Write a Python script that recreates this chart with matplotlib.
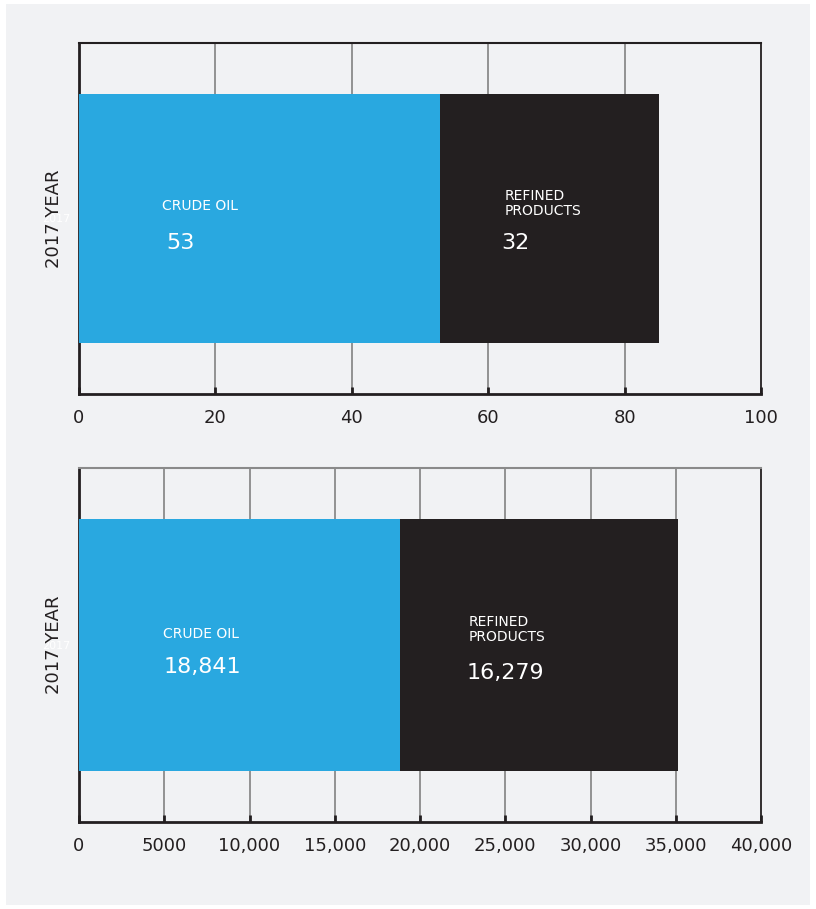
import matplotlib
matplotlib.use("Agg")
import matplotlib.pyplot as plt
from matplotlib.patches import Rectangle

# data
year_label = "2017"
categories = ["CRUDE OIL", "REFINED\nPRODUCTS"]
share_values = [53, 32]                 # top chart
volume_values = [18841, 16279]          # bottom chart
share_ticks = [0, 20, 40, 60, 80, 100]
share_ticklabels = ["0", "20", "40", "60", "80", "100"]
volume_ticks = [0, 5000, 10000, 15000, 20000, 25000, 30000, 35000, 40000]
volume_ticklabels = ["0", "5000", "10,000", "15,000", "20,000", "25,000",
                     "30,000", "35,000", "40,000"]

BG = "#f1f2f4"
BLUE = "#29a8e0"
DARK = "#231f20"
GRID = "#8a8a8a"

plt.rcParams['font.family'] = ['DejaVu Sans']

fig = plt.figure(figsize=(8.16, 9.09), dpi=100)
fig.patch.set_facecolor("white")
# light grey card behind both charts
fig.patches.append(Rectangle((6 / 816, 1 - 905 / 909), 804 / 816, 901 / 909,
                             transform=fig.transFigure, facecolor=BG,
                             edgecolor="none", zorder=-10))


def draw_panel(ax, values, ticks, ticklabels, xmax, label_fmt,
               name_dx, val_dx, name_dy, val_dy, top_spine_color):
    ax.set_facecolor(BG)
    colors = [BLUE, DARK]
    left = 0
    for i, v in enumerate(values):
        ax.barh(0, v, left=left, height=0.71, color=colors[i], zorder=3)
        # label offsets are fractions of the axis width from the bar start
        ax.text(left + name_dx[i] * xmax, name_dy[i], categories[i], color="white",
                fontsize=10, ha="left", va="center", linespacing=1.1, zorder=4)
        ax.text(left + val_dx[i] * xmax, val_dy[i], label_fmt(v),
                color="white", fontsize=16, ha="left", va="center", zorder=4)
        left += v

    ax.set_xlim(0, xmax)
    ax.set_ylim(-0.5, 0.5)
    ax.set_xticks(ticks)
    ax.set_xticklabels(ticklabels)
    ax.tick_params(axis="x", direction="in", length=5, width=2, color=DARK,
                   labelsize=13, labelcolor=DARK, pad=11)
    ax.set_yticks([0])
    ax.set_yticklabels([year_label])
    ax.tick_params(axis="y", length=0, labelsize=8, labelcolor="white", pad=6)
    for t in ticks[1:-1]:
        ax.axvline(t, color=GRID, linewidth=1.3, zorder=1)
    ax.spines["left"].set_color(DARK)
    ax.spines["left"].set_linewidth(2)
    ax.spines["bottom"].set_color(DARK)
    ax.spines["bottom"].set_linewidth(2)
    ax.spines["right"].set_color(DARK)
    ax.spines["right"].set_linewidth(1.3)
    ax.spines["top"].set_color(top_spine_color)
    ax.spines["top"].set_linewidth(1.5)
    ax.set_ylabel("2017 YEAR", fontsize=13, color=DARK)
    ax.yaxis.set_label_coords(-0.023, 0.5)


ax1 = fig.add_axes([79 / 816, 1 - 394 / 909, 682 / 816, 351 / 909])
draw_panel(ax1, share_values, share_ticks, share_ticklabels, 100,
           lambda v: str(v), [0.122, 0.094], [0.128, 0.089],
           [0.037, 0.043], [-0.07, -0.07], DARK)

ax2 = fig.add_axes([79 / 816, 1 - 822 / 909, 682 / 816, 354 / 909])
draw_panel(ax2, volume_values, volume_ticks, volume_ticklabels, 40000,
           lambda v: f"{v:,}", [0.123, 0.101], [0.124, 0.097],
           [0.031, 0.045], [-0.062, -0.08], GRID)

fig.savefig("out.png", dpi=100, facecolor=fig.get_facecolor())
